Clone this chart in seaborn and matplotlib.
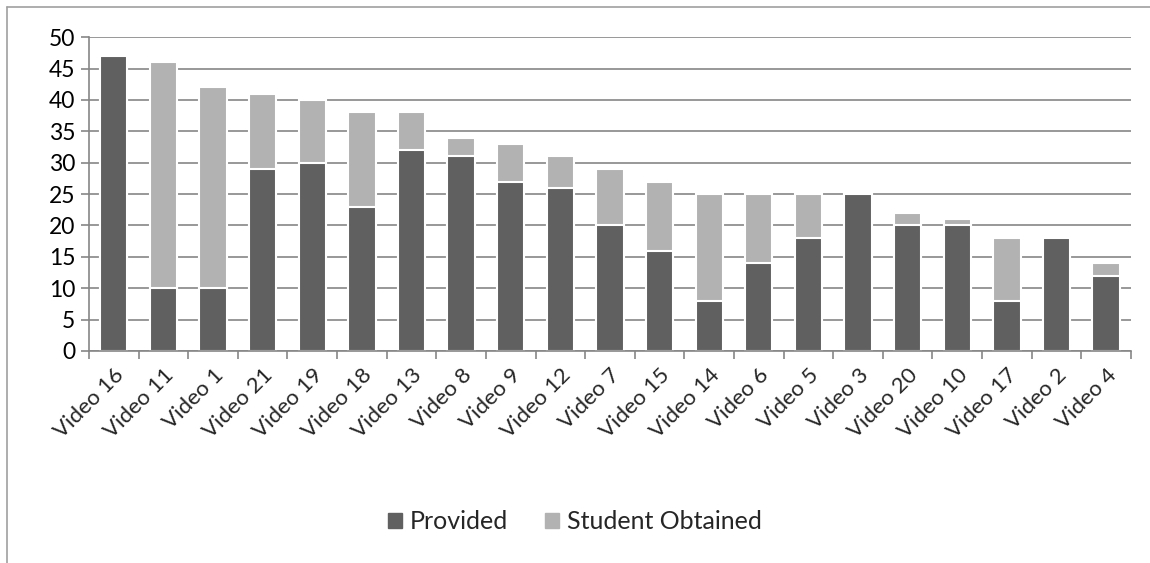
import seaborn as sns
import matplotlib.pyplot as plt
import pandas as pd
from matplotlib.patches import Rectangle

videos = ["Video 16", "Video 11", "Video 1", "Video 21", "Video 19", "Video 18", "Video 13",
          "Video 8", "Video 9", "Video 12", "Video 7", "Video 15", "Video 14", "Video 6",
          "Video 5", "Video 3", "Video 20", "Video 10", "Video 17", "Video 2", "Video 4"]
provided = [47, 10, 10, 29, 30, 23, 32, 31, 27, 26, 20, 16, 8, 14, 18, 25, 20, 20, 8, 18, 12]
student = [0, 36, 32, 12, 10, 15, 6, 3, 6, 5, 9, 11, 17, 11, 7, 0, 2, 1, 10, 0, 2]

df = pd.DataFrame({"video": videos, "provided": provided, "student": student})
df["total"] = df["provided"] + df["student"]

sns.set_theme(style="white")
plt.rcParams["font.family"] = ["Lato", "DejaVu Sans"]

dark = "#606060"
light = "#b2b2b2"

fig = plt.figure(figsize=(11.5, 5.63), dpi=100)
ax = fig.add_axes([0.0774, 0.3766, 0.906, 0.5574])

sns.barplot(data=df, x="video", y="total", color=light, width=0.55,
            edgecolor="white", linewidth=1.5, saturation=1, ax=ax)
sns.barplot(data=df, x="video", y="provided", color=dark, width=0.55,
            edgecolor="white", linewidth=1.5, saturation=1, ax=ax)

ax.set_ylim(0, 50)
ax.set_xlim(-0.5, len(videos) - 0.5)
ax.set_yticks(range(0, 51, 5))
ax.yaxis.grid(True, color="#868686", linewidth=1.2)
ax.set_axisbelow(True)
ax.set_xlabel("")
ax.set_ylabel("")
for s in ["top", "right"]:
    ax.spines[s].set_visible(False)
for s in ["left", "bottom"]:
    ax.spines[s].set_color("#868686")
    ax.spines[s].set_linewidth(1.2)

ax.tick_params(axis="y", labelsize=16.5, length=6, width=1.2, color="#868686",
               left=True, pad=4, labelcolor="black")
ax.set_xticks(range(len(videos)))
ax.set_xticklabels(videos, rotation=45, ha="right", rotation_mode="anchor", fontsize=16)
ax.tick_params(axis="x", length=0, pad=10)
# category boundary ticks
ax.set_xticks([i - 0.5 for i in range(len(videos) + 1)], minor=True)
ax.tick_params(axis="x", which="minor", length=6, width=1.2, color="#868686", bottom=True)

handles = [Rectangle((0, 0), 1, 1, color=dark), Rectangle((0, 0), 1, 1, color=light)]
fig.legend(handles, ["Provided", "Student Obtained"], loc="center", ncol=2,
           bbox_to_anchor=(0.5, 0.073), frameon=False, fontsize=18,
           handlelength=0.55, handleheight=0.55, handletextpad=0.3, columnspacing=1.5)

# outer chart border
fig.add_artist(plt.Line2D([0.0061, 0.0061], [0, 0.9876], transform=fig.transFigure,
                          color="#a0a0a0", linewidth=1.2))
fig.add_artist(plt.Line2D([0.0061, 1], [0.9876, 0.9876], transform=fig.transFigure,
                          color="#a0a0a0", linewidth=1.2))

fig.savefig("out.png", dpi=100)
